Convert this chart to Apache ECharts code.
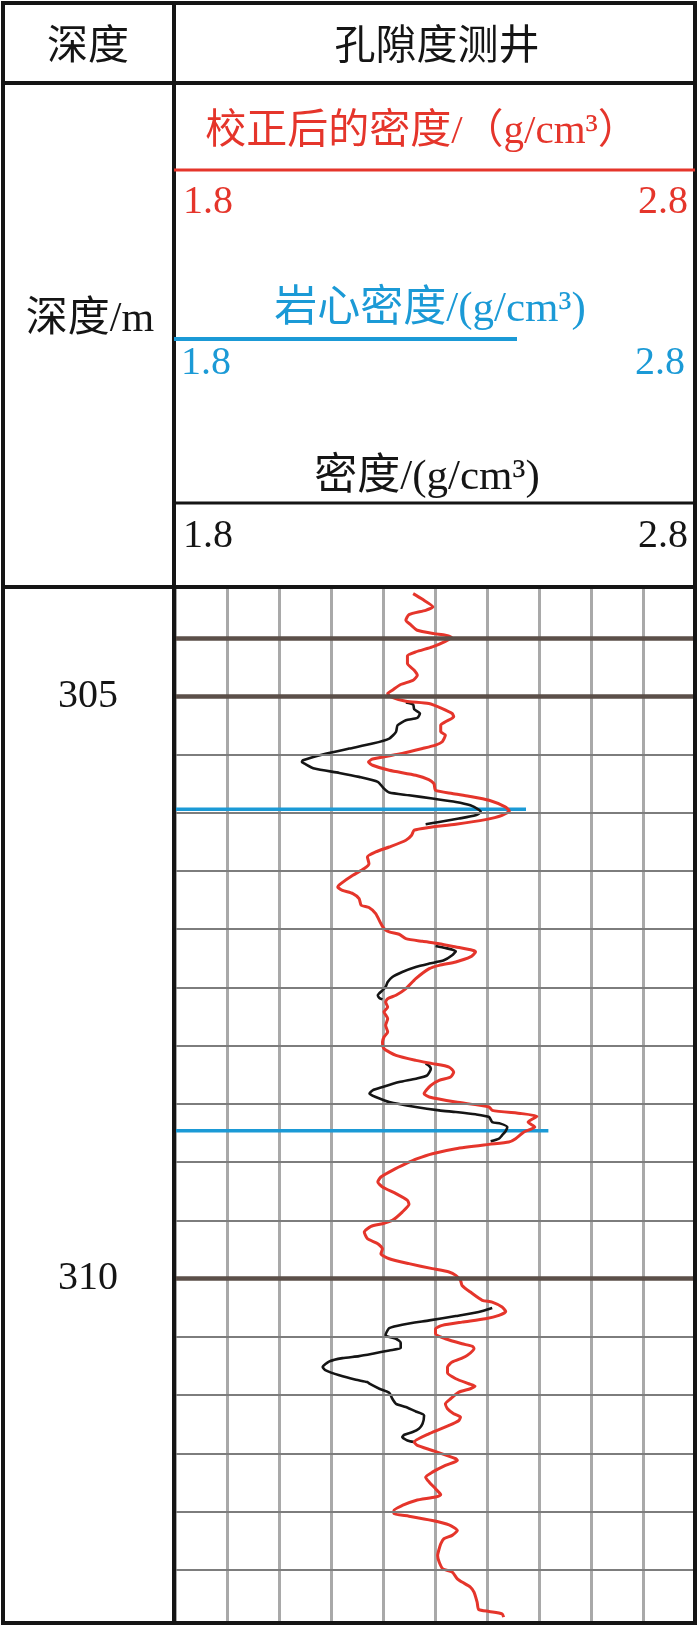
<!DOCTYPE html>
<html>
<head>
<meta charset="utf-8">
<script src="https://cdn.jsdelivr.net/npm/echarts@6/dist/echarts.min.js"></script>
<style>
  html, body { margin: 0; padding: 0; background: #fff; }
  #main { width: 700px; height: 1627px; }
</style>
</head>
<body>
<div id="main"></div>
<script>
// 密度刻度 / 深度刻度
const densityRange = [1.8, 2.8]
const depthRange = [304.08, 312.94]
const depthGrid = [304.5, 305, 305.5, 306, 306.5, 307, 307.5, 308, 308.5, 309, 309.5, 310, 310.5, 311, 311.5, 312, 312.5]
const depthHeavy = [304.5, 305, 310]
const depthLabels = [305, 310]
const scaleLabels = ['1.8', '2.8']

// 校正后的密度
const corrDepth = [
  304.12, 304.169, 304.234, 304.263, 304.30, 304.349, 304.386, 304.434, 304.463, 304.477,
  304.497, 304.529, 304.577, 304.62, 304.654, 304.72, 304.777, 304.82, 304.863, 304.90,
  304.949, 304.977, 305.006, 305.043, 305.063, 305.106, 305.149, 305.177, 305.22, 305.249,
  305.306, 305.334, 305.391, 305.42, 305.449, 305.491, 305.54, 305.565, 305.593, 305.636,
  305.679, 305.716, 305.751, 305.808, 305.836, 305.859, 305.894, 305.951, 305.985, 306.023,
  306.06, 306.10, 306.128, 306.151, 306.194, 306.237, 306.295, 306.337, 306.38, 306.438,
  306.48, 306.538, 306.609, 306.638, 306.667, 306.695, 306.738, 306.795, 306.815, 306.867,
  306.953, 306.996, 307.024, 307.044, 307.082, 307.105, 307.125, 307.153, 307.182, 307.196,
  307.239, 307.282, 307.311, 307.339, 307.425, 307.511, 307.568, 307.597, 307.626, 307.669,
  307.711, 307.769, 307.826, 307.883, 307.926, 307.969, 308.026, 308.084, 308.127, 308.155,
  308.184, 308.227, 308.27, 308.298, 308.341, 308.413, 308.441, 308.484, 308.527, 308.556,
  308.584, 308.607, 308.656, 308.699, 308.742, 308.799, 308.828, 308.848, 308.885, 308.928,
  308.971, 309.014, 309.071, 309.128, 309.171, 309.214, 309.271, 309.329, 309.363, 309.429,
  309.50, 309.529, 309.552, 309.601, 309.658, 309.701, 309.744, 309.787, 309.83, 309.872,
  309.915, 309.944, 309.973, 310.016, 310.059, 310.116, 310.187, 310.202, 310.245, 310.282,
  310.316, 310.345, 310.374, 310.402, 310.431, 310.474, 310.517, 310.56, 310.582, 310.602,
  310.66, 310.683, 310.717, 310.76, 310.809, 310.86, 310.903, 310.923, 310.946, 310.975,
  311.032, 311.075, 311.118, 311.161, 311.189, 311.218, 311.261, 311.332, 311.404, 311.433,
  311.476, 311.547, 311.561, 311.604, 311.662, 311.705, 311.748, 311.805, 311.856, 311.876,
  311.905, 311.948, 311.991, 312.019, 312.04, 312.077, 312.114, 312.163, 312.205, 312.234,
  312.277, 312.32, 312.377, 312.434, 312.492, 312.52, 312.578, 312.606, 312.649, 312.692,
  312.778, 312.841, 312.858, 312.878, 312.907
]
const corrDensity = [
  2.258, 2.276, 2.296, 2.282, 2.250, 2.244, 2.253, 2.266, 2.298, 2.320,
  2.332, 2.320, 2.295, 2.263, 2.247, 2.247, 2.260, 2.266, 2.258, 2.234,
  2.218, 2.209, 2.215, 2.244, 2.288, 2.314, 2.333, 2.336, 2.320, 2.311,
  2.311, 2.320, 2.314, 2.301, 2.276, 2.237, 2.180, 2.172, 2.180, 2.212,
  2.263, 2.288, 2.298, 2.301, 2.333, 2.365, 2.404, 2.435, 2.443, 2.429,
  2.397, 2.340, 2.288, 2.260, 2.255, 2.244, 2.212, 2.186, 2.170, 2.173,
  2.164, 2.142, 2.119, 2.113, 2.122, 2.142, 2.154, 2.158, 2.173, 2.186,
  2.196, 2.202, 2.212, 2.231, 2.244, 2.276, 2.308, 2.340, 2.372, 2.378,
  2.368, 2.340, 2.308, 2.289, 2.263, 2.244, 2.225, 2.209, 2.205, 2.209,
  2.202, 2.209, 2.205, 2.209, 2.202, 2.199, 2.202, 2.225, 2.263, 2.295,
  2.327, 2.336, 2.330, 2.308, 2.292, 2.279, 2.289, 2.340, 2.404, 2.410,
  2.467, 2.496, 2.479, 2.492, 2.471, 2.455, 2.442, 2.404, 2.340, 2.295,
  2.266, 2.244, 2.218, 2.196, 2.190, 2.199, 2.225, 2.247, 2.250, 2.237,
  2.218, 2.199, 2.177, 2.164, 2.170, 2.190, 2.199, 2.196, 2.212, 2.250,
  2.295, 2.327, 2.340, 2.349, 2.352, 2.368, 2.391, 2.410, 2.429, 2.436,
  2.423, 2.397, 2.352, 2.314, 2.301, 2.301, 2.320, 2.352, 2.372, 2.375,
  2.362, 2.352, 2.333, 2.324, 2.324, 2.340, 2.365, 2.377, 2.368, 2.346,
  2.330, 2.320, 2.324, 2.336, 2.349, 2.346, 2.327, 2.289, 2.260, 2.266,
  2.295, 2.340, 2.343, 2.320, 2.295, 2.282, 2.289, 2.301, 2.311, 2.301,
  2.263, 2.237, 2.221, 2.221, 2.250, 2.295, 2.327, 2.343, 2.333, 2.317,
  2.311, 2.308, 2.305, 2.308, 2.315, 2.333, 2.343, 2.352, 2.368, 2.375,
  2.381, 2.384, 2.404, 2.429, 2.432
]

// 密度 (null = 曲线断开)
const logDepth = [
  305.055, 305.072, 305.112, 305.149, 305.187, 305.207, 305.25, 305.307, 305.364, 305.407,
  305.45, 305.50, 305.55, 305.565, 305.579, 305.622, 305.659, 305.693, 305.736, 305.794,
  305.828, 305.851, 305.879, 305.908, 305.937, 305.974, 305.994, 306.023, 306.051, 306.08,
  306.10, null,
  307.145, 307.162, 307.19, 307.225, 307.268, 307.296, 307.325, 307.368, 307.411, 307.454,
  307.497, 307.525, 307.568, 307.591, 307.603, null,
  308.155, 308.175, 308.198, 308.255, 308.284, 308.313, 308.356, 308.384, 308.413, 308.441,
  308.484, 308.527, 308.556, 308.57, 308.59, 308.613, 308.656, 308.67, 308.699, 308.733,
  308.77, 308.799, 308.822, null,
  310.253, 310.288, 310.322, 310.359, 310.396, 310.425, 310.459, 310.488, 310.517, 310.551,
  310.597, 310.617, 310.645, 310.666, 310.683, 310.711, 310.76, 310.789, 310.831, 310.869,
  310.889, 310.903, 310.946, 310.98, 311.032, 311.075, 311.103, 311.141, 311.175, 311.247,
  311.289, 311.318, 311.341, 311.361, 311.39, 311.404
]
const logDensity = [
  2.244, 2.258, 2.260, 2.271, 2.266, 2.244, 2.228, 2.225, 2.212, 2.180,
  2.135, 2.084, 2.046, 2.044, 2.049, 2.068, 2.116, 2.154, 2.190, 2.202,
  2.212, 2.250, 2.295, 2.340, 2.368, 2.384, 2.388, 2.378, 2.346, 2.308,
  2.282, null,
  2.301, 2.320, 2.340, 2.333, 2.317, 2.289, 2.263, 2.237, 2.218, 2.209,
  2.205, 2.199, 2.190, 2.193, 2.199, null,
  2.282, 2.289, 2.292, 2.285, 2.263, 2.231, 2.199, 2.180, 2.174, 2.186,
  2.212, 2.263, 2.308, 2.340, 2.378, 2.404, 2.410, 2.426, 2.439, 2.436,
  2.429, 2.423, 2.407, null,
  2.410, 2.384, 2.340, 2.289, 2.237, 2.212, 2.207, 2.205, 2.225, 2.234,
  2.234, 2.212, 2.180, 2.154, 2.122, 2.097, 2.084, 2.090, 2.116, 2.148,
  2.170, 2.174, 2.193, 2.212, 2.218, 2.225, 2.244, 2.263, 2.279, 2.276,
  2.269, 2.257, 2.241, 2.237, 2.247, 2.260
]

// 岩心密度
const coreDepth = [305.97, 308.73]
const coreDensity = [2.475, 2.518]

const RED = '#e5352b'
const BLUE = '#1b9ad6'
const INK = '#151515'
const LATIN = "'Liberation Serif', 'Noto Sans CJK SC', serif"
const CJK = "'Liberation Serif', 'Noto Sans CJK SC', sans-serif"

const corrData = corrDepth.map((d, i) => [corrDensity[i], d])

const logSegments = []
let seg = []
logDepth.forEach((d, i) => {
  if (d === null) {
    if (seg.length) logSegments.push(seg)
    seg = []
  } else {
    seg.push([logDensity[i], d])
  }
})
if (seg.length) logSegments.push(seg)

const chart = echarts.init(document.getElementById('main'))

function txt(text, x, y, size, color, align, family) {
  return {
    type: 'text',
    z: 110,
    silent: true,
    style: {
      text: text,
      x: x,
      y: y,
      fill: color,
      fontSize: size,
      fontFamily: family || CJK,
      textAlign: align || 'center',
      textVerticalAlign: 'middle'
    }
  }
}
function hline(x1, x2, y, color, w) {
  return {
    type: 'line',
    z: 100,
    silent: true,
    shape: { x1: x1, y1: y, x2: x2, y2: y },
    style: { stroke: color, lineWidth: w }
  }
}

const series = []

// 水平网格线
series.push({
  type: 'line',
  data: [[densityRange[0], depthGrid[0]]],
  symbol: 'none',
  lineStyle: { opacity: 0 },
  z: 1,
  silent: true,
  markLine: {
    silent: true,
    symbol: ['none', 'none'],
    label: { show: false },
    animation: false,
    data: depthGrid.map((d) => ({
      yAxis: d,
      lineStyle: depthHeavy.includes(d)
        ? { color: '#5b4f49', width: 4.5, type: 'solid' }
        : { color: '#7d7d7d', width: 1.8, type: 'solid' }
    }))
  }
})

// 岩心密度
coreDepth.forEach((d, i) => {
  series.push({
    name: '岩心密度',
    type: 'line',
    data: [[densityRange[0], d], [coreDensity[i], d]],
    symbol: 'none',
    z: 2,
    lineStyle: { color: BLUE, width: 3.5 }
  })
})

// 密度
logSegments.forEach((s) => {
  series.push({
    name: '密度',
    type: 'line',
    data: s,
    symbol: 'none',
    smooth: 0.2,
    z: 3,
    lineStyle: { color: INK, width: 2.6, join: 'round' }
  })
})

// 校正后的密度
series.push({
  name: '校正后的密度',
  type: 'line',
  data: corrData,
  symbol: 'none',
  smooth: 0.2,
  z: 4,
  lineStyle: { color: RED, width: 3, join: 'round' }
})

const option = {
  animation: false,
  backgroundColor: '#ffffff',
  grid: {
    left: 175,
    right: 5,
    top: 589,
    bottom: 6,
    outerBoundsMode: 'none'
  },
  xAxis: {
    type: 'value',
    min: densityRange[0],
    max: densityRange[1],
    interval: 0.1,
    position: 'top',
    axisLine: { show: false },
    axisTick: { show: false },
    axisLabel: { show: false },
    splitLine: { show: true, lineStyle: { color: '#a9a9a9', width: 3 } }
  },
  yAxis: {
    type: 'value',
    inverse: true,
    min: depthRange[0],
    max: depthRange[1],
    axisLine: { show: false },
    axisTick: { show: false },
    splitLine: { show: false },
    axisLabel: {
      customValues: depthLabels,
      margin: 87,
      align: 'center',
      fontSize: 40,
      fontFamily: LATIN,
      color: INK
    }
  },
  series: series,
  graphic: [
    // 表格框线
    {
      type: 'rect',
      z: 100,
      silent: true,
      shape: { x: 3, y: 3, width: 692, height: 1620 },
      style: { fill: 'none', stroke: INK, lineWidth: 4 }
    },
    {
      type: 'line',
      z: 100,
      silent: true,
      shape: { x1: 174, y1: 3, x2: 174, y2: 1623 },
      style: { stroke: INK, lineWidth: 4 }
    },
    hline(3, 695, 83, INK, 4),
    hline(3, 695, 587, INK, 4),
    hline(174, 695, 503, INK, 3),
    hline(174, 695, 170, RED, 3),
    hline(174, 517, 339, BLUE, 4),
    // 表头
    txt('深度', 88, 48, 41, INK),
    txt('孔隙度测井', 437, 48, 41, INK),
    txt('深度/m', 90, 320, 42, INK),
    // 图例
    txt('校正后的密度/（g/cm³）', 422, 132, 41, RED),
    txt(scaleLabels[0], 183, 202, 40, RED, 'left', LATIN),
    txt(scaleLabels[1], 688, 202, 40, RED, 'right', LATIN),
    txt('岩心密度/(g/cm³)', 430, 310, 43, BLUE),
    txt(scaleLabels[0], 181, 363, 40, BLUE, 'left', LATIN),
    txt(scaleLabels[1], 685, 363, 40, BLUE, 'right', LATIN),
    txt('密度/(g/cm³)', 427, 478, 43, INK),
    txt(scaleLabels[0], 183, 536, 40, INK, 'left', LATIN),
    txt(scaleLabels[1], 688, 536, 40, INK, 'right', LATIN)
  ]
}

chart.setOption(option)
</script>
</body>
</html>
